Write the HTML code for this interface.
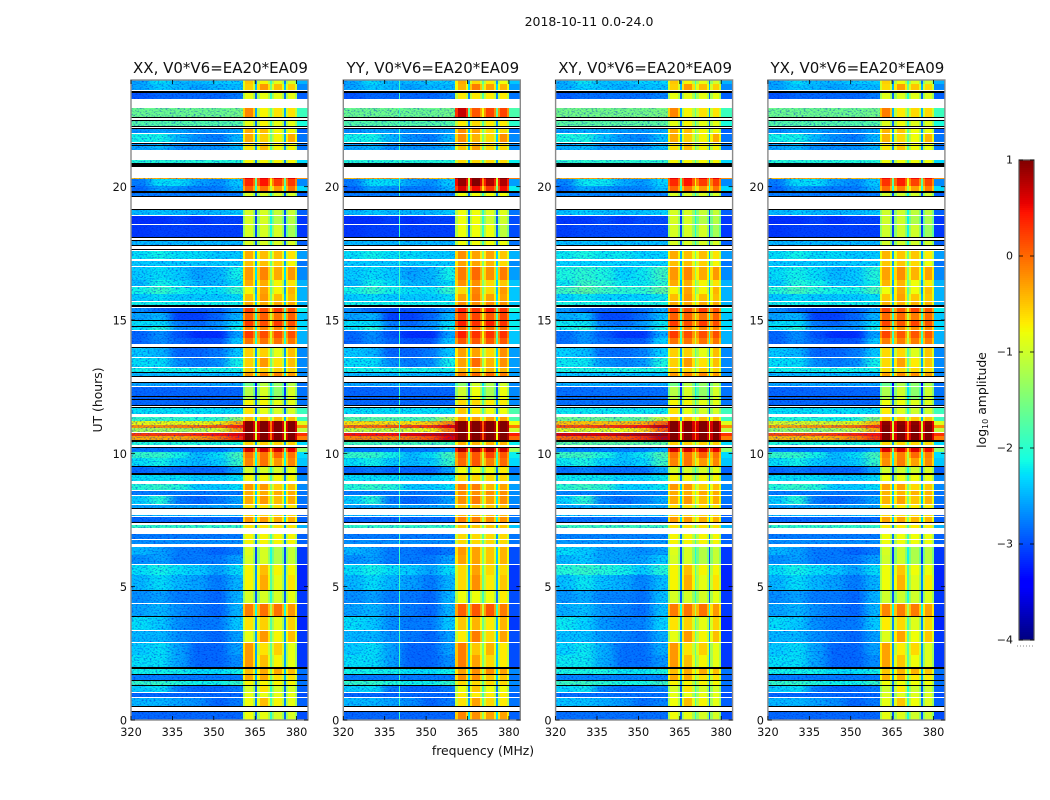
<!DOCTYPE html>
<html lang="en">
<head>
<meta charset="utf-8">
<title>2018-10-11 0.0-24.0</title>
<style>
html,body{margin:0;padding:0;background:#fff;width:1050px;height:800px;overflow:hidden}
svg{display:block}
text{font-family:"DejaVu Sans","Liberation Sans",sans-serif;fill:#111}
</style>
</head>
<body>
<svg id="fig" width="1050" height="800" viewBox="0 0 1050 800" xmlns="http://www.w3.org/2000/svg">
  <defs id="defs">
    <filter id="speckle" filterUnits="userSpaceOnUse" x="110" y="70" width="840" height="660" color-interpolation-filters="sRGB">
      <feGaussianBlur in="SourceGraphic" stdDeviation="5 0" result="b"/>
      <feTurbulence type="fractalNoise" baseFrequency="0.5 0.7" numOctaves="2" seed="7" result="n"/>
      <feColorMatrix in="n" type="matrix" values="0 0 0 0 0  0 0 0 0 0.12  0 0 0 0 0.85  1.8 0 0 0 -0.85" result="d"/>
      <feComposite in="d" in2="SourceAlpha" operator="in" result="dm"/>
      <feMerge><feMergeNode in="SourceGraphic"/><feMergeNode in="b"/><feMergeNode in="dm"/></feMerge>
    </filter>
  </defs>
  <text x="589" y="26" font-size="12.5" text-anchor="middle">2018-10-11 0.0-24.0</text>
  <text x="483" y="755" font-size="12.4" text-anchor="middle">frequency (MHz)</text>
  <text x="102" y="400" font-size="12.4" text-anchor="middle" transform="rotate(-90 102 400)">UT (hours)</text>
  <text x="986" y="400" font-size="12.4" text-anchor="middle" transform="rotate(-90 986 400)">log<tspan font-size="8" dy="2">10</tspan><tspan dy="-2"> amplitude</tspan></text>
  <g id="panels"></g>
  <g id="colorbar"></g>
</svg>
<script>
const panelTitles = ['XX, V0*V6=EA20*EA09','YY, V0*V6=EA20*EA09','XY, V0*V6=EA20*EA09','YX, V0*V6=EA20*EA09'];
const freqTicks = [320,335,350,365,380];
const utTicks = [0,5,10,15,20];
const colorbarTicks = [1,0,-1,-2,-3,-4];
const colorbarTickLabels = ['1','0','\u22121','\u22122','\u22123','\u22124'];

// frequency column edges (MHz): six background, four sub-bands with three notches, one edge
const bgEdges = [320,327,334,341,348,355,360.6];
const bandEdges = [[360.6,365.1],[365.8,370.4],[371,375.5],[376.1,380.1]];
const notchEdges = [[365.1,365.8],[370.4,371],[375.5,376.1]];
const edgeBand = [380.1,384];
const notchDepths = [2.0,1.1,2.0];
// each sub-band is dimmer at its flanks: flank width (MHz) and drop (log10)
const bandFlankWidth = 0.8;
const bandFlankDrop = 0.4;

// UT span of each data row (hours)
const rowSpans = [
[23.85,24],[23.63,23.85],[23.29,23.51],[22.61,22.95],[22.28,22.5],[22.01,22.16],[21.68,21.98],[21.38,21.6],
[20.89,21],[20.27,20.33],[20.03,20.27],[19.84,20.03],[19.65,19.76],[18.94,19.13],[18.6,18.9],[18.11,18.56],
[17.81,17.96],[17.29,17.59],[17.03,17.21],[16.5,16.99],[16.28,16.5],[15.98,16.24],[15.71,15.98],[15.56,15.68],
[15.3,15.45],[15,15.26],[14.78,14.96],[14.63,14.78],[14.33,14.59],[14.1,14.33],[13.61,13.95],[13.24,13.58],
[13.05,13.2],[12.9,13.01],[12.53,12.64],[12.15,12.49],[12.04,12.11],[11.81,12],[11.48,11.7],[11.21,11.36],
[11.06,11.21],[10.95,11.06],[10.8,10.95],[10.65,10.76],[10.5,10.65],[10.31,10.43],[10.05,10.2],[9.83,10.05],
[9.53,9.83],[9.26,9.49],[8.96,9.19],[8.63,8.85],[8.44,8.59],[8.1,8.4],[7.95,8.06],[7.65,7.69],
[7.43,7.61],[7.2,7.31],[6.79,6.98],[6.6,6.75],[6.19,6.49],[5.85,6.19],[5.44,5.81],[4.88,5.44],
[4.39,4.84],[3.9,4.35],[3.38,3.86],[2.93,3.34],[2.44,2.89],[1.99,2.44],[1.73,1.91],[1.5,1.69],
[1.31,1.46],[1.05,1.28],[0.86,1.01],[0.53,0.83],[0,0.3]
];
// log10 amplitude, six background columns per row
const bgLevels = [
[-2.7,-2.4,-2.6,-2.6,-2.5,-2.5],[-2.7,-2.5,-2.6,-2.7,-2.6,-2.6],[-3.1,-3,-3,-3,-3,-2.9],[-1.75,-1.75,-1.75,-1.75,-1.75,-1.7],[-1.9,-1.9,-1.9,-1.9,-1.9,-1.9],[-2.8,-2.7,-2.7,-2.8,-2.8,-2.7],[-2.3,-2.3,-2.6,-2.8,-2.9,-2.6],[-2.7,-2.6,-2.8,-2.8,-2.8,-2.6],
[-2.2,-2.2,-2.2,-2.2,-2.2,-2.2],[-0.6,-0.5,-0.5,-0.5,-0.6,-0.6],[-2.9,-2.4,-2.4,-2.7,-2.8,-2.5],[-3,-2.7,-2.8,-2.9,-2.9,-2.6],[-2.9,-2.9,-2.9,-2.9,-2.9,-2.9],[-2.6,-2.5,-2.6,-2.6,-2.6,-2.5],[-3.3,-3.3,-3.2,-3.3,-3.2,-3.2],[-3.25,-3.2,-3.2,-3.2,-3.2,-3.2],
[-2.6,-2.6,-2.6,-2.6,-2.6,-2.6],[-2.4,-2.3,-2.4,-2.4,-2.5,-2.5],[-2.5,-2.5,-2.5,-2.5,-2.5,-2.5],[-2.5,-2.4,-2.5,-2.7,-2.6,-2.3],[-2.6,-2.3,-2.4,-2.6,-2.6,-2.4],[-2.3,-2.1,-2.3,-2.4,-2.4,-2.1],[-2.5,-2.4,-2.5,-2.5,-2.5,-2.4],[-2.3,-2.3,-2.3,-2.3,-2.3,-2.3],
[-2.8,-3,-3.1,-3.1,-3,-2.7],[-2.7,-2.6,-3.2,-3.2,-3,-2.6],[-2.4,-2.4,-2.9,-3,-2.8,-2.4],[-2.4,-2.2,-2.8,-2.8,-2.8,-2.3],[-3,-2.8,-3.1,-3.3,-3.3,-2.7],[-3,-2.8,-3,-3.1,-3.1,-2.5],[-2.5,-2.6,-3,-3,-2.9,-2.5],[-2.4,-2.4,-2.8,-2.9,-2.8,-2.3],
[-2.3,-2.3,-2.3,-2.3,-2.3,-2.3],[-2.6,-2.6,-2.6,-2.6,-2.6,-2.6],[-2.7,-2.7,-2.7,-2.7,-2.7,-2.7],[-3,-3,-3,-3,-3,-3],[-3,-3,-3,-3,-3,-3],[-3,-3,-3,-3,-3,-3],[-2.4,-2.4,-2.4,-2.4,-2.4,-2.4],[-2.1,-2.1,-2.1,-2.2,-2.1,-1.5],
[-1,-1,-1,-1,-0.9,-0.5],[-0.4,-0.4,-0.3,-0.2,-0.1,0.2],[-1.4,-1.4,-1.4,-1.3,-1.1,-0.4],[0.1,0.1,0.1,0.2,0.3,0.4],[-0.5,-0.5,-0.5,-0.4,-0.2,0.2],[-2.2,-2.2,-2.2,-2.2,-2.2,-2.2],[-2.9,-2.9,-2.9,-2.9,-2.9,-2.7],[-2.1,-2.1,-2.3,-2.6,-2.4,-2],
[-2.4,-2.3,-2.5,-2.6,-2.5,-2.1],[-3,-2.9,-3,-3,-3,-2.7],[-2.4,-2.4,-2.4,-2.5,-2.5,-2.4],[-2.2,-2.1,-2.2,-2.5,-2.5,-2.4],[-2.9,-2.9,-2.9,-2.9,-2.9,-2.9],[-2.5,-2.2,-2.9,-3,-2.9,-2.7],[-2.7,-2.7,-2.7,-2.7,-2.7,-2.7],[-2.6,-2.6,-2.6,-2.6,-2.6,-2.6],
[-3,-3,-3,-3,-3,-3],[-2.1,-2.1,-2.1,-2.1,-2.1,-2.1],[-2.9,-2.9,-2.9,-2.9,-2.9,-2.9],[-2.8,-2.8,-2.8,-2.8,-2.8,-2.8],[-2.6,-2.7,-2.9,-2.9,-3,-2.9],[-2.8,-2.7,-2.9,-2.9,-2.9,-2.7],[-2.4,-2.3,-2.4,-2.5,-2.7,-2.4],[-2.6,-2.4,-2.6,-2.7,-2.9,-2.6],
[-2.8,-2.7,-2.9,-2.9,-3,-2.6],[-2.7,-2.6,-2.8,-2.9,-3,-2.6],[-2.4,-2.5,-2.8,-2.9,-2.9,-2.5],[-2.6,-2.6,-2.8,-2.9,-3,-2.7],[-2.5,-2.4,-2.7,-3,-3,-2.7],[-2.4,-2.4,-2.7,-3,-3,-2.8],[-2.3,-2.3,-2.3,-2.4,-2.4,-2.3],[-2.9,-2.9,-2.9,-2.9,-2.9,-2.9],
[-2.1,-2.1,-2.2,-2.3,-2.3,-2.1],[-2.5,-2.4,-2.9,-3,-3,-2.9],[-3,-3,-3,-3,-3,-3],[-2.6,-2.6,-2.7,-2.8,-3,-2.9],[-3,-3,-3,-3,-3,-3]
];
// log10 amplitude, four sub-bands per row
const bandLevels = [
[-0.55,-0.8,-0.9,-1],[-0.6,-0.3,-0.5,-0.6],[-0.9,-0.9,-0.9,-0.9],[-0.2,-0.8,-0.7,-0.7],[-0.9,-0.8,-0.9,-0.9],[-0.4,-0.5,-0.8,-0.8],[-0.4,-0.6,-0.8,-0.4],[-0.7,-0.5,-0.8,-0.8],
[-0.8,-0.8,-0.8,-0.8],[0.5,0.5,0.5,0.5],[0.3,0.4,0.2,0.2],[0,-0.1,-0.3,-0.1],[-1,-1,-1,-1],[-1,-1,-1.1,-1.1],[-1,-1,-1.2,-1.2],[-1,-1,-1,-1.3],
[-1,-1,-1,-1],[-0.4,-0.5,-0.5,-0.7],[-0.5,-0.5,-0.6,-0.8],[-0.3,-0.2,-0.4,-0.3],[-0.4,-0.4,-0.8,-0.7],[-0.8,-0.35,-0.8,-0.45],[-0.5,-0.3,-0.5,-0.5],[-0.4,-0.4,-0.4,-0.4],
[0.2,0.1,0.2,0.1],[0,0,-0.1,0],[0.2,0.1,0.2,0.1],[-0.2,-0.2,-0.2,-0.2],[0.2,0.1,0.1,0.1],[-0.1,-0.1,-0.1,-0.1],[-0.6,-0.6,-0.9,-0.5],[-0.6,-0.3,-0.7,-0.5],
[-0.6,-0.6,-0.6,-0.6],[-0.3,-0.2,-0.2,-0.3],[-1.6,-1.2,-1.4,-1.2],[-1.2,-1,-1.4,-1],[-1.2,-1,-1.4,-1],[-0.8,-0.8,-0.9,-0.9],[-0.7,-0.9,-1,-1],[-0.5,-0.5,-0.5,-0.5],
[0.95,0.95,0.95,0.95],[1,1,1,1],[1,1,1,1],[1,1,1,1],[1,1,1,1],[-0.6,-0.6,-0.6,-0.6],[0.6,0.6,0.6,0.5],[-0.1,-0.1,0,-0.1],
[-0.2,-0.1,-0.3,-0.2],[-1,-1,-1,-0.9],[-0.8,-0.8,-0.8,-0.8],[-0.3,-0.3,-0.6,-0.5],[-0.4,-0.4,-0.4,-0.4],[-0.4,-0.3,-0.5,-0.4],[-0.7,-0.7,-0.7,-0.7],[-0.6,-0.6,-0.6,-0.6],
[-0.3,-0.3,-0.4,-0.4],[-0.7,-0.7,-0.7,-0.7],[-0.8,-0.8,-0.8,-0.8],[-0.8,-0.8,-0.8,-0.8],[-0.95,-1,-1.2,-1.1],[-1,-1,-1.2,-1.1],[-0.8,-0.5,-0.8,-0.8],[-0.8,-0.4,-0.9,-0.7],
[-1,-1,-1,-0.9],[-0.15,-0.1,-0.1,-0.3],[-0.7,-0.6,-0.9,-0.6],[-0.9,-0.3,-0.8,-0.5],[-0.3,-0.7,-0.6,-0.9],[-0.3,-0.5,-0.8,-0.9],[-0.5,-0.4,-0.4,-0.5],[-0.4,-0.4,-0.7,-0.7],
[-0.8,-0.8,-0.8,-0.8],[-1,-0.7,-1,-1],[-0.9,-0.9,-0.9,-0.9],[-0.85,-0.5,-0.8,-0.9],[-0.85,-0.9,-1,-1]
];
// log10 amplitude of the upper edge (380-384 MHz) per row
const edgeLevels = [
-2.6,-2.8,-3,-2,-2.2,-3,-2.9,-2.9,
-2.4,-0.3,-2.8,-2.4,-3,-3,-3.2,-3.2,
-3,-2.7,-2.9,-2.8,-2.6,-2.6,-2.6,-2.6,
-2.3,-2.5,-2.4,-2.4,-2.6,-2.6,-2.8,-2.8,
-2.8,-2.8,-2.9,-2.9,-2.9,-2.9,-2,-2,
-1,-0.3,-1.2,0.2,-0.2,-2.4,-1.5,-2.4,
-2.5,-3,-2.8,-2.8,-2.9,-2.9,-3,-3,
-3,-2.6,-3,-3,-3.2,-3.2,-3.3,-3.3,
-3.2,-3.2,-3.3,-3.2,-3.2,-3.2,-2.9,-3,
-2.9,-3,-3.1,-3,-3.1
];
// flagged (black) UT spans (hours)
const flaggedSpans = [
[23.51,23.57],[22.58,22.61],[22.46,22.5],[22.24,22.28],[22.16,22.2],[21.6,21.64],[21.52,21.56],[20.74,20.89],
[19.76,19.84],[19.61,19.65],[19.13,19.16],[18.08,18.11],[17.96,18],[17.78,17.81],[17.63,17.66],[15.49,15.56],
[15.26,15.3],[14.96,15],[14.74,14.78],[13.95,13.99],[13.01,13.05],[12.86,12.9],[12.64,12.68],[12.11,12.15],
[12,12.04],[11.78,11.81],[11.7,11.74],[10.43,10.5],[10.2,10.24],[9.49,9.53],[9.19,9.26],[7.91,7.95],
[7.39,7.43],[4.84,4.88],[3.86,3.9],[1.91,1.99],[1.69,1.73],[1.46,1.5],[1.28,1.31],[0.49,0.53],[0.3,0.34]
];
// per-polarisation level adjustments (log10)
const panelBgShift = [0.15,0.15,0.2,0.15];
const panelBandShift = [0.05,0.2,0.05,0];
const panelEdgeShift = [0.1,0.2,0.1,0.1];
// extra sub-band brightening: panel index, UT start, UT end, amount
const bandBoosts = [
[1,22.61,22.95,0.7],[1,19.84,20.33,0.4],[1,0,0.3,0.5],[1,5.85,6.49,0.5],[1,13.24,14.1,0.1],[2,22.61,22.95,0],[3,22.61,22.95,0.1]
];
// background brightening: panel index, UT start, UT end, amount
const bgBoosts = [
[1,10.31,11.36,0.2],[2,10.31,11.36,0.3],[2,15.98,16.99,0.2],[2,5.44,6.49,0.15],[3,15.98,16.99,0.1],[3,10.5,11.36,-0.1]
];
// thin RFI column: panel index, frequency (MHz), level
const rfiColumns = [[1,340,-1.9]];

const AX_TOP = 80, AX_BOTTOM = 720, AX_WIDTH = 177, AX_PITCH = 212.3, FIRST_LEFT = 131;
const NS = 'http://www.w3.org/2000/svg';
function axisLeft(p){ return FIRST_LEFT + p * AX_PITCH; }
function xScale(p,f){ return axisLeft(p) + (f - 320) * 2.76; }
function yScale(ut){ return AX_BOTTOM - ut * (AX_BOTTOM - AX_TOP) / 24; }
function clamp(v){ return Math.max(0, Math.min(1, v)); }
function jet(level){
  const t = clamp((level + 4) / 5);
  const r = t < .35 ? 0 : t < .66 ? (t - .35) / .31 : t < .89 ? 1 : 1 - (t - .89) / .11 * .5;
  const g = t < .125 ? 0 : t < .375 ? (t - .125) / .25 : t < .64 ? 1 : t < .91 ? 1 - (t - .64) / .27 : 0;
  const b = t < .11 ? .5 + t / .11 * .5 : t < .34 ? 1 : t < .65 ? 1 - (t - .34) / .31 : 0;
  return 'rgb(' + Math.round(r * 255) + ',' + Math.round(g * 255) + ',' + Math.round(b * 255) + ')';
}
function svgEl(tag, attrs, parent){
  const el = document.createElementNS(NS, tag);
  for (const k in attrs) el.setAttribute(k, attrs[k]);
  parent.appendChild(el);
  return el;
}
function cell(parent, p, f0, f1, span, level){
  const x0 = Math.round(xScale(p, f0));
  const x1 = Math.min(Math.round(xScale(p, f1)), Math.round(axisLeft(p) + AX_WIDTH));
  const y0 = Math.round(yScale(span[1]));
  const y1 = Math.round(yScale(span[0]));
  const el = svgEl('rect', {x: x0, y: y0, width: Math.max(1, x1 - x0), height: Math.max(1, y1 - y0), fill: jet(level)}, parent);
  
  
}
function spanBoost(list, p, span){
  let total = 0;
  list.forEach(function(b){
    if (b[0] === p && span[0] >= b[1] - 1e-6 && span[1] <= b[2] + 1e-6) total += b[3];
  });
  return total;
}

const panelsRoot = document.getElementById('panels');
const defsEl = document.getElementById('defs');
panelTitles.forEach(function(title, p){
  const g = svgEl('g', {}, panelsRoot);
  
  

  const clip = svgEl('clipPath', {id: 'bg-clip-' + p}, defsEl);
  svgEl('rect', {x: Math.round(xScale(p, 320)), y: AX_TOP, width: Math.round(xScale(p, 360.6)) - Math.round(xScale(p, 320)), height: AX_BOTTOM - AX_TOP}, clip);

  const bgClip = svgEl('g', {'clip-path': 'url(#bg-clip-' + p + ')'}, g);
  
  
  const heatBg = svgEl('g', {filter: 'url(#speckle)', 'shape-rendering': 'crispEdges'}, bgClip);
  
  
  const heat = svgEl('g', {'shape-rendering': 'crispEdges'}, g);
  
  

  rowSpans.forEach(function(span, r){
    const bgAdd = panelBgShift[p] + spanBoost(bgBoosts, p, span);
    const bandAdd = panelBandShift[p] + spanBoost(bandBoosts, p, span);
    bgLevels[r].forEach(function(v, c){
      cell(heatBg, p, bgEdges[c], bgEdges[c + 1], span, v + bgAdd);
    });
    let bandSum = 0;
    bandLevels[r].forEach(function(v, c){
      const lev = v + bandAdd;
      const e = bandEdges[c];
      bandSum += lev;
      cell(heat, p, e[0], e[0] + bandFlankWidth, span, lev - bandFlankDrop);
      cell(heat, p, e[0] + bandFlankWidth, e[1] - bandFlankWidth, span, lev);
      cell(heat, p, e[1] - bandFlankWidth, e[1], span, lev - bandFlankDrop);
    });
    notchEdges.forEach(function(n, c){
      cell(heat, p, n[0], n[1], span, bandSum / 4 - notchDepths[c]);
    });
    cell(heat, p, edgeBand[0], edgeBand[1], span, edgeLevels[r] + panelEdgeShift[p]);
    rfiColumns.forEach(function(col){
      if (col[0] === p) cell(heat, p, col[1], col[1] + 0.36, span, col[2]);
    });
  });

  flaggedSpans.forEach(function(s){
    const y0 = Math.round(yScale(s[1]));
    const y1 = Math.round(yScale(s[0]));
    const el = svgEl('rect', {x: Math.round(axisLeft(p)), y: y0, width: AX_WIDTH, height: Math.max(1, y1 - y0), fill: '#000', 'shape-rendering': 'crispEdges'}, g);
    
    
  });

  const frame = svgEl('rect', {x: axisLeft(p), y: AX_TOP, width: AX_WIDTH, height: AX_BOTTOM - AX_TOP, fill: 'none', stroke: '#8a8a8a', 'stroke-width': 1.4}, g);
  
  

  const t = svgEl('text', {x: axisLeft(p) + AX_WIDTH / 2 + 1, y: 73, 'font-size': 15, 'text-anchor': 'middle'}, g);
  t.textContent = title;
  
  

  freqTicks.forEach(function(f){
    const x = xScale(p, f);
    const top = svgEl('line', {x1: x, x2: x, y1: AX_TOP, y2: AX_TOP + 4, stroke: '#000', 'stroke-width': .8}, g);
    
    
    const bot = svgEl('line', {x1: x, x2: x, y1: AX_BOTTOM, y2: AX_BOTTOM - 4, stroke: '#000', 'stroke-width': .8}, g);
    
    
    const lab = svgEl('text', {x: x, y: 736, 'font-size': 11.3, 'text-anchor': 'middle'}, g);
    lab.textContent = String(f);
    
    
  });
  utTicks.forEach(function(u){
    const y = yScale(u);
    const left = svgEl('line', {x1: axisLeft(p), x2: axisLeft(p) + 4, y1: y, y2: y, stroke: '#000', 'stroke-width': .8}, g);
    
    
    const right = svgEl('line', {x1: axisLeft(p) + AX_WIDTH, x2: axisLeft(p) + AX_WIDTH - 4, y1: y, y2: y, stroke: '#000', 'stroke-width': .8}, g);
    
    
    const lab = svgEl('text', {x: axisLeft(p) - 4, y: y + 4.5, 'font-size': 11.3, 'text-anchor': 'end'}, g);
    lab.textContent = String(u);
    
    
  });
});

// colorbar
const cbRoot = document.getElementById('colorbar');
const CB_X = 1019, CB_W = 15, CB_TOP = 160, CB_BOTTOM = 640;
function cbY(level){ return CB_BOTTOM - (level + 4) / 5 * (CB_BOTTOM - CB_TOP); }
for (let y = CB_TOP; y < CB_BOTTOM; y += 2) {
  const lev = -4 + (CB_BOTTOM - y - 1) / (CB_BOTTOM - CB_TOP) * 5;
  const seg = svgEl('rect', {x: CB_X, y: y, width: CB_W, height: 2, fill: jet(lev), 'shape-rendering': 'crispEdges'}, cbRoot);
  
  
}
const cbFrame = svgEl('rect', {x: CB_X, y: CB_TOP, width: CB_W, height: CB_BOTTOM - CB_TOP, fill: 'none', stroke: '#555', 'stroke-width': 1.2}, cbRoot);


colorbarTicks.forEach(function(v, i){
  const y = cbY(v);
  const l = svgEl('line', {x1: CB_X, x2: CB_X + 4, y1: y, y2: y, stroke: '#000', 'stroke-width': .8}, cbRoot);
  
  
  const r = svgEl('line', {x1: CB_X + CB_W - 4, x2: CB_X + CB_W, y1: y, y2: y, stroke: '#000', 'stroke-width': .8}, cbRoot);
  
  
  const lab = svgEl('text', {x: CB_X - 6, y: y + 3.5, 'font-size': 11, 'text-anchor': 'end'}, cbRoot);
  lab.textContent = colorbarTickLabels[i];
  
  
});
const dots = svgEl('line', {x1: 1017, x2: 1035, y1: 646, y2: 646, stroke: '#888', 'stroke-width': 1, 'stroke-dasharray': '1 2'}, cbRoot);


</script>
</body>
</html>
